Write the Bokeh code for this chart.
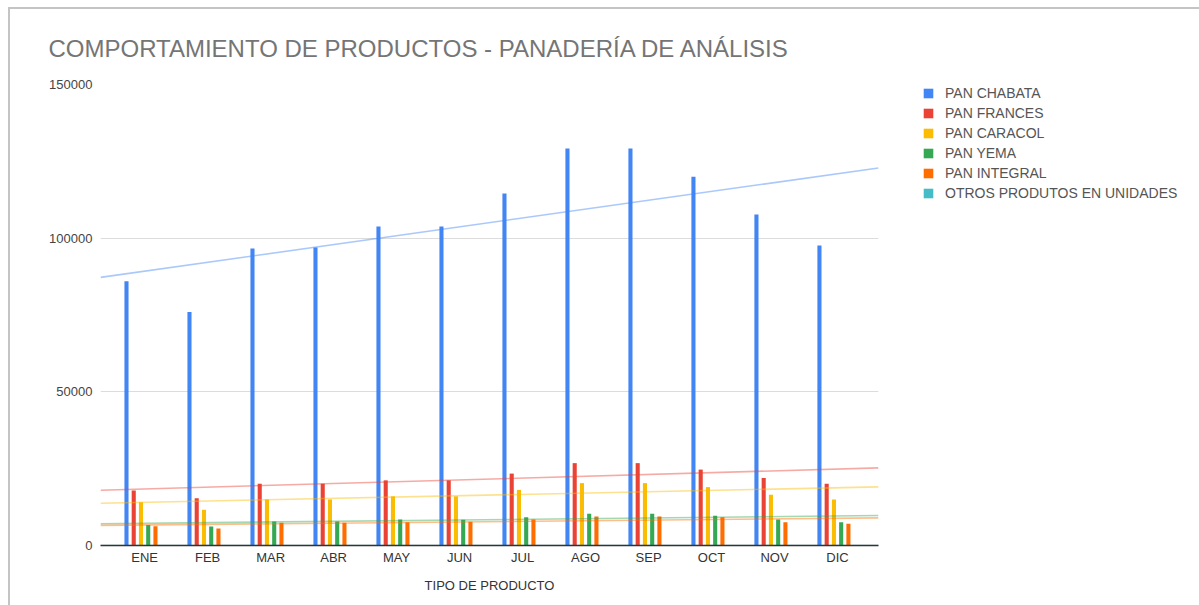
import numpy as np
from bokeh.plotting import figure
from bokeh.layouts import row
from bokeh.models import (ColumnDataSource, Legend, LegendItem, FixedTicker,
                          Range1d, NumeralTickFormatter)
from bokeh.transform import dodge
from bokeh.embed import file_html
from bokeh.resources import INLINE

# ---------------- data ----------------
months = ["ENE", "FEB", "MAR", "ABR", "MAY", "JUN", "JUL", "AGO", "SEP", "OCT", "NOV", "DIC"]
pan_chabata = [86000, 76000, 96600, 97000, 103800, 103800, 114500, 129200, 129200, 120000, 107700, 97600]
pan_frances = [17900, 15400, 20100, 20100, 21200, 21200, 23400, 26800, 26800, 24700, 22000, 20100]
pan_caracol = [14100, 11600, 15000, 15000, 16000, 16000, 18100, 20300, 20300, 19000, 16500, 15000]
pan_yema = [6700, 6200, 7800, 7800, 8500, 8400, 9200, 10300, 10300, 9700, 8500, 7600]
pan_integral = [6300, 5500, 7400, 7400, 7600, 7700, 8500, 9400, 9400, 9200, 7600, 7100]
otros_productos = [0, 0, 0, 0, 0, 0, 0, 0, 0, 0, 0, 0]

series_names = ["PAN CHABATA", "PAN FRANCES", "PAN CARACOL", "PAN YEMA",
                "PAN INTEGRAL", "OTROS PRODUTOS EN UNIDADES"]
series_values = [pan_chabata, pan_frances, pan_caracol, pan_yema, pan_integral, otros_productos]
series_colors = ["#4285F4", "#EA4335", "#FBBC04", "#34A853", "#FF6D01", "#46BDC6"]
y_ticks = [0, 50000, 100000, 150000]

title_text = "COMPORTAMIENTO DE PRODUCTOS - PANADERÍA DE ANÁLISIS"
x_label = "TIPO DE PRODUCTO"

FONT = "Liberation Sans"

# ---------------- main figure ----------------
pos = list(range(len(months)))
data = {"pos": pos}
for i, vals in enumerate(series_values):
    data[f"s{i}"] = vals
source = ColumnDataSource(data)

x0, x1 = -0.7, 11.65
p = figure(width=890, height=596, output_backend="svg", toolbar_location=None,
           x_range=Range1d(x0, x1), y_range=Range1d(0, 150000),
           min_border_left=90, min_border_right=22, min_border_top=75,
           min_border_bottom=60, title=title_text)

p.title.text_font = FONT
p.title.text_font_size = "24px"
p.title.text_font_style = "normal"
p.title.text_color = "#757575"
p.title.align = "left"
p.title.offset = -52
p.title.standoff = 45

p.outline_line_color = None
p.background_fill_color = "white"
p.border_fill_color = "white"

# grid
p.xgrid.grid_line_color = None
p.ygrid.grid_line_color = "#dcdcdc"
p.ygrid.ticker = FixedTicker(ticks=y_ticks)

# y axis
p.yaxis.ticker = FixedTicker(ticks=y_ticks)
p.yaxis.formatter = NumeralTickFormatter(format="0")
p.yaxis.axis_line_color = None
p.yaxis.major_tick_line_color = None
p.yaxis.minor_tick_line_color = None
p.yaxis.major_label_text_font = FONT
p.yaxis.major_label_text_font_size = "13px"
p.yaxis.major_label_text_color = "#444444"
p.yaxis.major_label_standoff = 2

# x axis
p.xaxis.ticker = FixedTicker(ticks=pos)
p.xaxis.major_label_overrides = {i: m for i, m in enumerate(months)}
p.xaxis.axis_line_color = "#333333"
p.xaxis.axis_line_width = 1.5
p.xaxis.major_tick_line_color = None
p.xaxis.minor_tick_line_color = None
p.xaxis.major_label_text_font = FONT
p.xaxis.major_label_text_font_size = "13px"
p.xaxis.major_label_text_color = "#333333"
p.xaxis.major_label_standoff = -2
p.xaxis.axis_label = x_label
p.xaxis.axis_label_text_font = FONT
p.xaxis.axis_label_text_font_size = "13px"
p.xaxis.axis_label_text_font_style = "normal"
p.xaxis.axis_label_text_color = "#333333"
p.xaxis.axis_label_standoff = 10

# bars
step = 0.115
bar_w = 0.065
n = len(series_values)
for i in range(n):
    off = (i - (n - 1) / 2) * step
    p.vbar(x=dodge("pos", off, range=p.x_range), top=f"s{i}", width=bar_w,
           bottom=0, source=source, fill_color=series_colors[i], line_color=None)

# linear trend lines over the whole plot width
xs = np.array([x0, x1])
for i, vals in enumerate(series_values):
    k, b = np.polyfit(np.array(pos, dtype=float), np.array(vals, dtype=float), 1)
    p.line(xs, k * xs + b, line_color=series_colors[i], line_alpha=0.45, line_width=1.6)

# ---------------- legend panel ----------------
lp = figure(width=299, height=596, output_backend="svg", toolbar_location=None,
            x_axis_type=None, y_axis_type=None, min_border=0,
            x_range=Range1d(100, 101), y_range=Range1d(0, 1))
lp.outline_line_color = None
lp.xgrid.grid_line_color = None
lp.ygrid.grid_line_color = None
lp.border_fill_color = "white"
lp.background_fill_color = "white"

leg_renderers = []
for i in range(n):
    r = lp.vbar(x="pos", top=f"s{i}", width=0.1, source=source,
                fill_color=series_colors[i], line_color=None, visible=False)
    leg_renderers.append(r)

legend = Legend(items=[LegendItem(label=series_names[i], renderers=[leg_renderers[i]])
                       for i in range(n)],
                location=(22, 344), orientation="vertical",
                glyph_width=12, glyph_height=12, label_height=12,
                spacing=4, padding=0, margin=0, label_standoff=11,
                label_text_font=FONT, label_text_font_size="14px",
                label_text_color="#555555", border_line_color=None,
                background_fill_alpha=0, inactive_fill_alpha=0)
lp.add_layout(legend, "center")

layout = row(p, lp, margin=(7, 0, 0, 8))
layout.styles = {"border-left": "2px solid #c4c4c4", "border-top": "2px solid #c4c4c4"}
open("out.html", "w").write(file_html(layout, INLINE))
